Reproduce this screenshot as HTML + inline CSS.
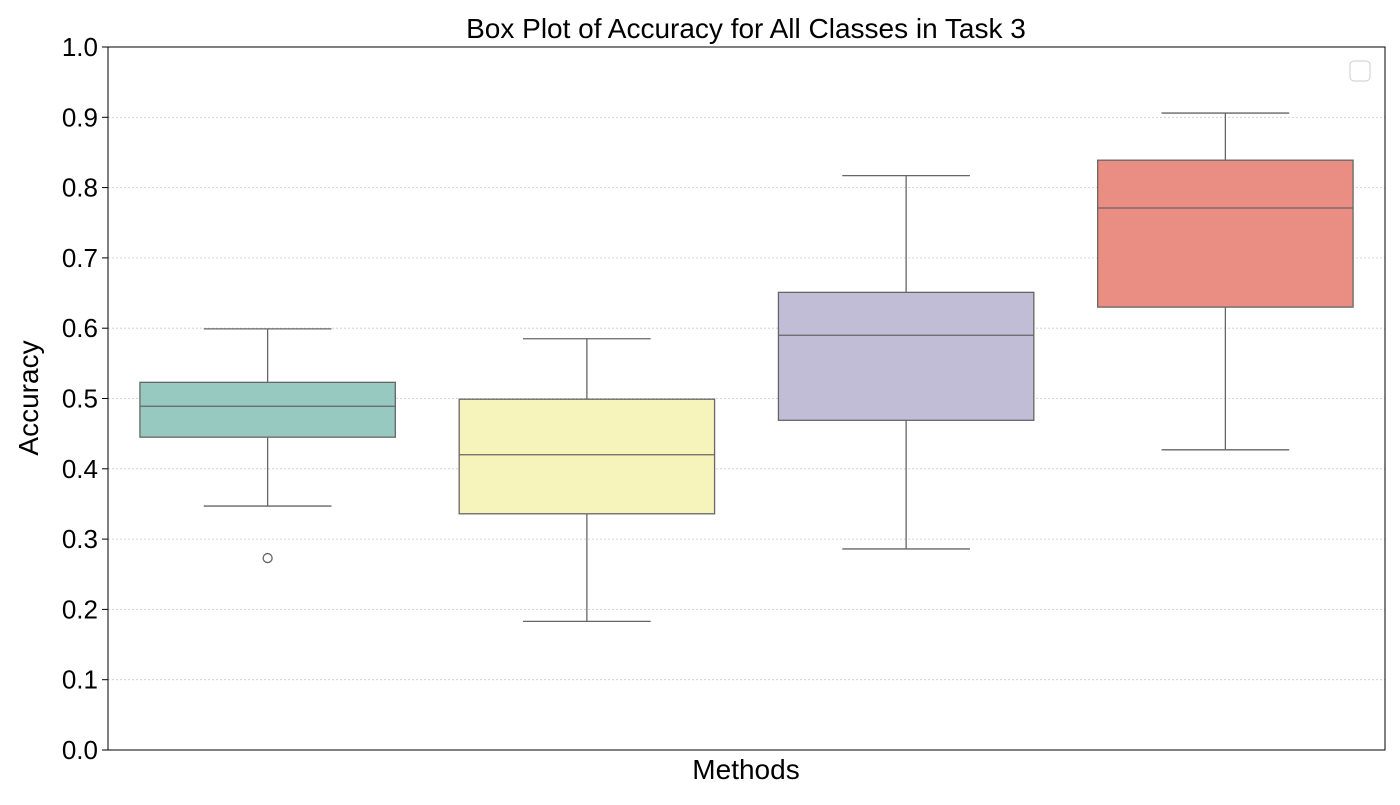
<!DOCTYPE html>
<html><head><meta charset="utf-8"><style>
body{margin:0;background:#fff;font-family:"Liberation Sans","DejaVu Sans",sans-serif}
</style></head><body>
<svg id="chart" width="1400" height="800" xmlns="http://www.w3.org/2000/svg">
<text x="746" y="38" text-anchor="middle" font-size="28">Box Plot of Accuracy for All Classes in Task 3</text>
<text x="746" y="779" text-anchor="middle" font-size="28">Methods</text>
<text transform="translate(38,398) rotate(-90)" text-anchor="middle" font-size="28">Accuracy</text>
<g id="grid"></g><g id="ticks"></g><g id="boxes"></g>
<rect x="108" y="47" width="1277" height="703" fill="none" stroke="#000" stroke-width="1"/>
<rect x="1350" y="61" width="20" height="20" rx="4" fill="#fff" stroke="#ccc"/>
</svg>
<script>
const categories=["Method 1","Method 2","Method 3","Method 4"];
const whiskerLow=[0.347,0.183,0.286,0.427];
const q1=[0.445,0.336,0.469,0.630];
const median=[0.489,0.420,0.590,0.771];
const q3=[0.523,0.499,0.651,0.839];
const whiskerHigh=[0.599,0.585,0.817,0.906];
const outliers=[[0.273],[],[],[]];
const yTicks=[0,0.1,0.2,0.3,0.4,0.5,0.6,0.7,0.8,0.9,1.0];
const colors=["#97c9c0","#f6f4bb","#c2bdd6","#ea8e83"];
const NS="http://www.w3.org/2000/svg";
const X0=108,X1=1385,Y0=750,Y1=47;
const y=v=>Y0-(v-0)/(1-0)*(Y0-Y1);
const bw=(X1-X0)/categories.length;
const xc=i=>X0+bw*(i+0.5);
function mk(t,a,p){const e=document.createElementNS(NS,t);for(const k in a)e.setAttribute(k,a[k]);p.appendChild(e);return e;}
const grid=document.getElementById('grid'),ticks=document.getElementById('ticks'),boxes=document.getElementById('boxes');
yTicks.forEach(v=>{
 if(v>0&&v<1){const g=mk('line',{x1:X0,x2:X1,y1:y(v),y2:y(v),stroke:'#ccc','stroke-dasharray':'2,2','stroke-width':0.8},grid);
 
 }
 const t=mk('line',{x1:X0-6,x2:X0,y1:y(v),y2:y(v),stroke:'#000'},ticks);
 
 
 const l=mk('text',{x:X0-10,y:y(v)+9,'text-anchor':'end','font-size':26},ticks);
 l.textContent=v.toFixed(1);
 
 
});
categories.forEach((c,i)=>{
 const cx=xc(i),w=bw*0.8,cap=w/2;
 const g=mk('g',{},boxes);
 
 
 const s={stroke:'#666','stroke-width':1.3};
 mk('line',Object.assign({x1:cx,x2:cx,y1:y(whiskerHigh[i]),y2:y(q3[i])},s),g);
 mk('line',Object.assign({x1:cx,x2:cx,y1:y(q1[i]),y2:y(whiskerLow[i])},s),g);
 mk('line',Object.assign({x1:cx-cap/2,x2:cx+cap/2,y1:y(whiskerHigh[i]),y2:y(whiskerHigh[i])},s),g);
 mk('line',Object.assign({x1:cx-cap/2,x2:cx+cap/2,y1:y(whiskerLow[i]),y2:y(whiskerLow[i])},s),g);
 mk('rect',Object.assign({x:cx-w/2,y:y(q3[i]),width:w,height:y(q1[i])-y(q3[i]),fill:colors[i]},s),g);
 mk('line',Object.assign({x1:cx-w/2,x2:cx+w/2,y1:y(median[i]),y2:y(median[i])},s),g);
 outliers[i].forEach(o=>{const p=mk('circle',Object.assign({cx:cx,cy:y(o),r:4.5,fill:'none'},s),g);
 
 });
});
</script>
</body></html>
